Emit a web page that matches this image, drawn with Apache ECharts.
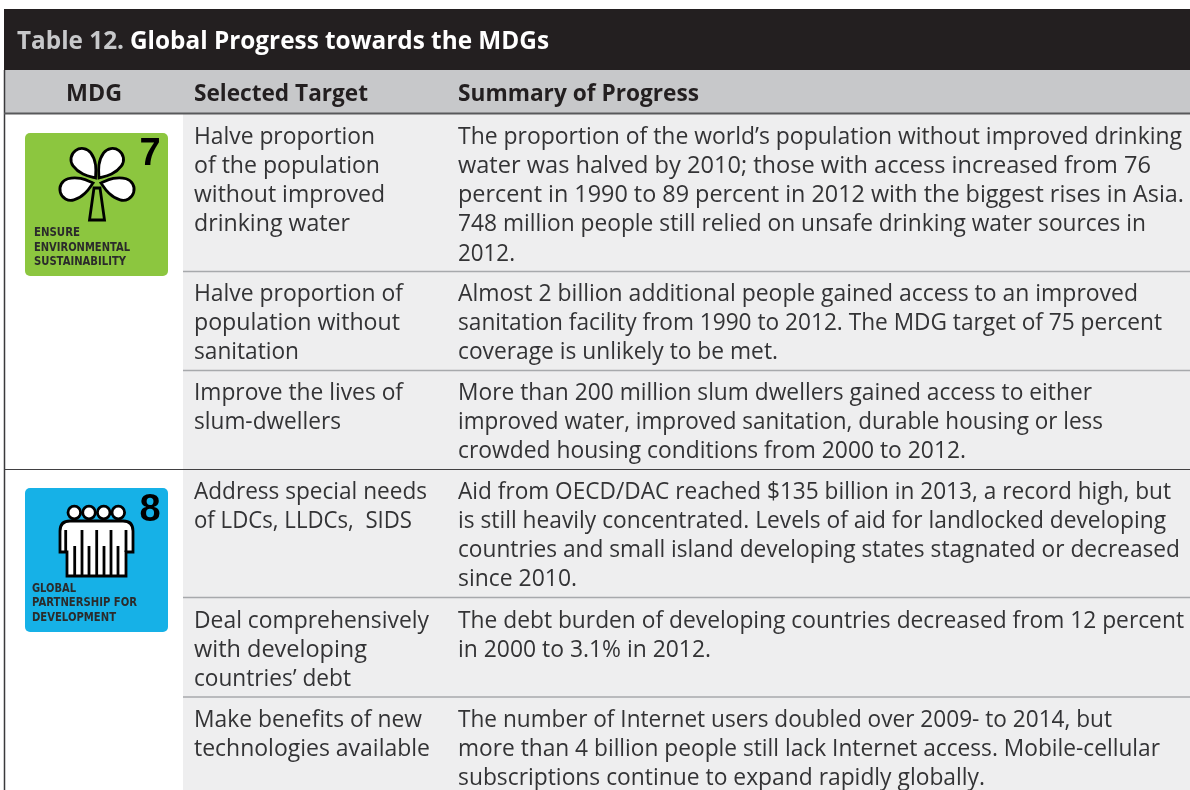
<!DOCTYPE html>
<html><head><meta charset="utf-8">
<style>html,body{margin:0;padding:0;background:#fff}#c{width:1190px;height:790px}</style>
<script src="https://cdn.jsdelivr.net/npm/echarts@6/dist/echarts.min.js"></script>
</head><body><div id="c"></div>
<script>
const tableLabel = 'Table 12.';
const tableTitle = 'Global Progress towards the MDGs';
const columnHeads = ['MDG', 'Selected Target', 'Summary of Progress'];
const targets = [
  ['Halve proportion', 'of the population', 'without improved', 'drinking water'],
  ['Halve proportion of', 'population without', 'sanitation'],
  ['Improve the lives of', 'slum-dwellers'],
  ['Address special needs', 'of LDCs, LLDCs,  SIDS'],
  ['Deal comprehensively', 'with developing', 'countries’ debt'],
  ['Make benefits of new', 'technologies available']
];
const summaries = [
  ['The proportion of the world’s population without improved drinking',
   'water was halved by 2010; those with access increased from 76',
   'percent in 1990 to 89 percent in 2012 with the biggest rises in Asia.',
   '748 million people still relied on unsafe drinking water sources in',
   '2012.'],
  ['Almost 2 billion additional people gained access to an improved',
   'sanitation facility from 1990 to 2012. The MDG target of 75 percent',
   'coverage is unlikely to be met.'],
  ['More than 200 million slum dwellers gained access to either',
   'improved water, improved sanitation, durable housing or less',
   'crowded housing conditions from 2000 to 2012.'],
  ['Aid from OECD/DAC reached $135 billion in 2013, a record high, but',
   'is still heavily concentrated. Levels of aid for landlocked developing',
   'countries and small island developing states stagnated or decreased',
   'since 2010.'],
  ['The debt burden of developing countries decreased from 12 percent',
   'in 2000 to 3.1% in 2012.'],
  ['The number of Internet users doubled over 2009- to 2014, but',
   'more than 4 billion people still lack Internet access. Mobile-cellular',
   'subscriptions continue to expand rapidly globally.']
];
const goalNumbers = ['7', '8'];
const goalCaptions = [
  ['ENSURE', 'ENVIRONMENTAL', 'SUSTAINABILITY'],
  ['GLOBAL', 'PARTNERSHIP FOR', 'DEVELOPMENT']
];

// layout only: right edge of each text line in the page
const targetEnds = [[375,380,385,350],[403,400,299],[403,341],[427,412],[429,367,351],[422,430]];
const summaryEnds = [[1182,1151,1184,1146,515],[1138,1162,778],[1092,1103,966],[1171,1166,1180,577],[1184,711],[1112,1160,985]];
const captionEnds = [[80,130,126],[76,137,116]];

const BODY = '"Open Sans","Noto Sans",sans-serif';
const measure = document.createElement('canvas').getContext('2d');
const els = [];
const rect = (x, y, w, h, fill, r) => els.push({type:'rect', shape:{x, y, width:w, height:h, r:r||0}, style:{fill}, silent:true});
const line = (x1, y1, x2, y2, stroke, lw) => els.push({type:'line', shape:{x1, y1, x2, y2}, style:{stroke, lineWidth:lw}, silent:true});
// draws a line of text stretched so that it runs from x to end
const fit = (t, x, end, y, font, fill) => {
  measure.font = font;
  els.push({type:'text', x, y, scaleX:(end - x) / measure.measureText(t).width,
    style:{text:t, font, fill, textAlign:'left', textVerticalAlign:'middle'}, silent:true});
};

echarts.graphic.registerShape('petal', echarts.graphic.extendShape({
  shape:{},
  buildPath(ctx){
    ctx.moveTo(0, 0);
    ctx.bezierCurveTo(-4, -5, -11, -12, -11, -23);
    ctx.arc(0, -23, 11, Math.PI, 0);
    ctx.bezierCurveTo(11, -12, 4, -5, 0, 0);
    ctx.closePath();
  }
}));
echarts.graphic.registerShape('gown', echarts.graphic.extendShape({
  shape:{},
  buildPath(ctx){
    ctx.moveTo(60, 552); ctx.lineTo(60, 531);
    ctx.quadraticCurveTo(60, 521, 70, 521); ctx.lineTo(123, 521);
    ctx.quadraticCurveTo(133, 521, 133, 531); ctx.lineTo(133, 552);
    ctx.lineTo(126, 552); ctx.lineTo(126, 576); ctx.lineTo(67, 576); ctx.lineTo(67, 552);
    ctx.closePath();
  }
}));

// backgrounds
rect(0, 0, 1190, 790, '#ffffff');
rect(183, 114, 1007, 676, '#eeeeef');
rect(4, 9, 1186, 61, '#231f20');
rect(4, 70, 1186, 44, '#c7c8ca');

// rules
line(4.5, 70, 4.5, 790, '#3a3a3c', 1.5);
line(4, 113.5, 1190, 113.5, '#58595b', 2);
line(4, 469.5, 1190, 469.5, '#414042', 1.2);
[271.5, 370.5, 597.5, 697].forEach(y => line(183, y, 1190, y, '#a7a9ac', 1.5));

// header text
fit(tableLabel, 17, 124, 42, 'bold 25px ' + BODY, '#c7c8ca');
fit(tableTitle, 130, 549, 42, 'bold 25px ' + BODY, '#ffffff');
const HEAD = 'bold 24px ' + BODY;
fit(columnHeads[0], 66, 122, 94, HEAD, '#231f20');
fit(columnHeads[1], 194, 368, 94, HEAD, '#231f20');
fit(columnHeads[2], 458, 699, 94, HEAD, '#231f20');

// rows
const rowTops = [137, 294, 393, 492, 621, 720];
const LINE = 29.25;
const FONT = '23px ' + BODY;
rowTops.forEach((top, i) => {
  targets[i].forEach((t, j) => fit(t, 194, targetEnds[i][j], top + j * LINE, FONT, '#333335'));
  summaries[i].forEach((t, j) => fit(t, 458, summaryEnds[i][j], top + j * LINE, FONT, '#333335'));
});

const NUM = 'bold 38px "Liberation Sans",sans-serif';
const CAP = 'bold 12px "DejaVu Sans",sans-serif';
const numberText = (t, y) => els.push({type:'text', x:150, y, style:{text:t, font:NUM, fill:'#000', textAlign:'center', textVerticalAlign:'middle'}, silent:true});

// goal 7 icon
rect(25, 133, 143, 143, '#8cc63f', 5);
numberText(goalNumbers[0], 155);
[[95.5,178,0.63],[99,178,-0.63],[93,183,1.85],[101,183,-1.85]].forEach(p => els.push({
  type:'petal', x:p[0], y:p[1], rotation:p[2],
  style:{fill:'#fff', stroke:'#000', lineWidth:2.8}, silent:true}));
els.push({type:'polygon', shape:{points:[[94,188],[100,188],[104.5,220],[89.5,220]]},
  style:{fill:'#8cc63f', stroke:'#000', lineWidth:2.8}, silent:true});
goalCaptions[0].forEach((t, j) => fit(t, 34, captionEnds[0][j], 233 + j * 14.5, CAP, '#2b2b2b'));

// goal 8 icon
rect(25, 488, 143, 144, '#16b1e7', 5);
numberText(goalNumbers[1], 511);
[74.3, 89, 103.7, 118.3].forEach(x => els.push({type:'circle', shape:{cx:x, cy:512.5, r:6.3},
  style:{fill:'#fff', stroke:'#000', lineWidth:2.8}, silent:true}));
els.push({type:'gown', style:{fill:'#fff', stroke:'#000', lineWidth:2.8}, silent:true});
[65.7, 82, 96.7, 111, 126].forEach((x, i) => line(x, 530, x, i === 0 || i === 4 ? 552 : 576, '#000', 2.8));
[74.7, 89, 104, 118].forEach(x => line(x, 546, x, 576, '#000', 2.8));
goalCaptions[1].forEach((t, j) => fit(t, 32, captionEnds[1][j], 588.5 + j * 14.5, CAP, '#2b2b2b'));

const chart = echarts.init(document.getElementById('c'), null, {renderer:'canvas'});
chart.setOption({animation:false, graphic:{elements:els}});
</script></body></html>
